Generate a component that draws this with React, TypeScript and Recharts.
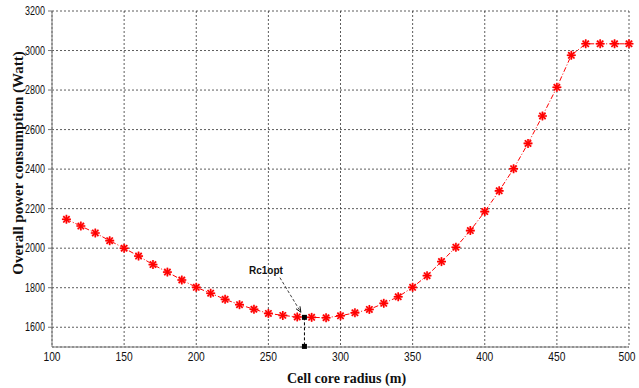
import {
  CartesianGrid,
  Line,
  LineChart,
  ReferenceDot,
  ReferenceLine,
  XAxis,
  YAxis,
} from "recharts";

const radius = [
  110, 120, 130, 140, 150, 160, 170, 180, 190, 200, 210, 220, 230, 240, 250,
  260, 270, 280, 290, 300, 310, 320, 330, 340, 350, 360, 370, 380, 390, 400,
  410, 420, 430, 440, 450, 460, 470, 480, 490, 500,
];
const power = [
  2146, 2112, 2077, 2038, 2000, 1960, 1917, 1879, 1839, 1802, 1772, 1741, 1714,
  1691, 1670, 1660, 1652, 1650, 1648, 1658, 1673, 1690, 1721, 1754, 1802, 1861,
  1932, 2005, 2089, 2185, 2290, 2402, 2530, 2669, 2814, 2976, 3034, 3034, 3034,
  3034,
];
const xTicks = [100, 150, 200, 250, 300, 350, 400, 450, 500];
const yTicks = [1600, 1800, 2000, 2200, 2400, 2600, 2800, 3000, 3200];

const data = radius.map((r, i) => ({ r, p: power[i] }));

const tickFont = "Liberation Sans, Arial";
const labelFont = "Liberation Serif, Times New Roman, serif";

// narrow tick labels, the original font is condensed
const XTick = (props: any) => {
  const { x, y, payload } = props;
  const s = String(payload.value);
  return (
    <text
      x={x}
      y={y}
      dy="0.71em"
      textAnchor="middle"
      fontFamily={tickFont}
      fontSize={13}
      fill="#111"
      textLength={s.length * 5.7}
      lengthAdjust="spacingAndGlyphs"
    >
      {s}
    </text>
  );
};

const YTick = (props: any) => {
  const { x, y, payload } = props;
  const s = String(payload.value);
  return (
    <text
      x={x}
      y={y}
      dy="0.355em"
      textAnchor="end"
      fontFamily={tickFont}
      fontSize={12}
      fill="#111"
      textLength={s.length * 5}
      lengthAdjust="spacingAndGlyphs"
    >
      {s}
    </text>
  );
};

// asterisk marker like the matlab '*'
const StarDot = (props: any) => {
  const { cx, cy } = props;
  if (cx == null || cy == null) return null;
  const r = 4.5;
  const d = r * 0.7071;
  return (
    <g>
      <circle cx={cx} cy={cy} r={4} fill="#ff9a9a" opacity={0.5} />
      <line x1={cx - r} y1={cy} x2={cx + r} y2={cy} stroke="#ff0000" strokeWidth={1.6} />
      <line x1={cx} y1={cy - r} x2={cx} y2={cy + r} stroke="#ff0000" strokeWidth={1.6} />
      <line x1={cx - d} y1={cy - d} x2={cx + d} y2={cy + d} stroke="#ff0000" strokeWidth={1.6} />
      <line x1={cx - d} y1={cy + d} x2={cx + d} y2={cy - d} stroke="#ff0000" strokeWidth={1.6} />
    </g>
  );
};

const ArrowShape = (props: any) => {
  const { x1, y1, x2, y2 } = props;
  const ang = Math.atan2(y2 - y1, x2 - x1);
  const h = 6;
  const a1 = ang + Math.PI - 0.4;
  const a2 = ang + Math.PI + 0.4;
  return (
    <g>
      <text
        x={x1 - 14}
        y={y1 - 4}
        textAnchor="middle"
        fontFamily={tickFont}
        fontSize={10}
        fontWeight={600}
        fill="#111"
      >
        Rc1opt
      </text>
      <line x1={x1} y1={y1} x2={x2} y2={y2} stroke="#111" strokeWidth={0.8} strokeDasharray="3 2" />
      <line x1={x2} y1={y2} x2={x2 + h * Math.cos(a1)} y2={y2 + h * Math.sin(a1)} stroke="#111" strokeWidth={1} />
      <line x1={x2} y1={y2} x2={x2 + h * Math.cos(a2)} y2={y2 + h * Math.sin(a2)} stroke="#111" strokeWidth={1} />
    </g>
  );
};

const SquareDot = (props: any) => {
  const { cx, cy } = props;
  return <rect x={cx - 2.5} y={cy - 2.5} width={5} height={5} fill="#000" />;
};

const XLabel = (props: any) => {
  const vb = props.viewBox;
  return (
    <text
      x={vb.x + vb.width / 2 + 6}
      y={vb.y + 36}
      textAnchor="middle"
      fontFamily={labelFont}
      fontWeight="bold"
      fontSize={14}
      fill="#111"
    >
      Cell core radius (m)
    </text>
  );
};

const YLabel = () => {
  const x = 18;
  const y = 163;
  return (
    <text
      x={x}
      y={y}
      transform={`rotate(-90 ${x} ${y})`}
      textAnchor="middle"
      dominantBaseline="central"
      fontFamily={labelFont}
      fontWeight="bold"
      fontSize={15}
      fill="#111"
    >
      Overall power consumption (Watt)
    </text>
  );
};

export default function App() {
  return (
    <div style={{ position: "absolute", left: 0, top: 0, background: "#fff" }}>
      <LineChart
        width={639}
        height={388}
        data={data}
        margin={{ top: 11, right: 10, left: 0, bottom: 0 }}
      >
        <CartesianGrid stroke="#333" strokeDasharray="2 2" strokeWidth={0.8} />
        <XAxis
          dataKey="r"
          type="number"
          domain={[100, 500]}
          ticks={xTicks}
          tick={XTick}
          tickLine={false}
          tickSize={5}
          tickMargin={0}
          axisLine={{ stroke: "#777" }}
          height={41}
          label={{ content: XLabel }}
        />
        <XAxis
          xAxisId="top"
          orientation="top"
          dataKey="r"
          type="number"
          domain={[100, 500]}
          ticks={xTicks}
          tick={false}
          tickLine={false}
          axisLine={{ stroke: "#777" }}
          height={0}
        />
        <YAxis
          type="number"
          domain={[1500, 3200]}
          ticks={yTicks}
          tick={YTick}
          tickLine={{ stroke: "#777" }}
          tickSize={4}
          axisLine={{ stroke: "#777" }}
          width={52}
          tickMargin={3}
          allowDataOverflow
          label={{ content: YLabel }}
        />
        <YAxis
          yAxisId="right"
          orientation="right"
          type="number"
          domain={[1500, 3200]}
          ticks={yTicks}
          tick={false}
          tickLine={false}
          axisLine={{ stroke: "#777" }}
          width={0}
        />
        <ReferenceLine
          segment={[
            { x: 275, y: 1650 },
            { x: 275, y: 1500 },
          ]}
          stroke="#000"
          strokeDasharray="3 2"
          strokeWidth={1}
        />
        <ReferenceDot x={275} y={1650} shape={SquareDot} />
        <ReferenceDot x={275} y={1503} shape={SquareDot} />
        <Line
          type="linear"
          dataKey="p"
          stroke="#ff0000"
          strokeWidth={1}
          strokeDasharray="5 2 1 2"
          dot={StarDot}
          activeDot={false}
          isAnimationActive={false}
        />
        <ReferenceLine
          segment={[
            { x: 258, y: 1851 },
            { x: 272.5, y: 1676 },
          ]}
          shape={ArrowShape}
        />
      </LineChart>
    </div>
  );
}
